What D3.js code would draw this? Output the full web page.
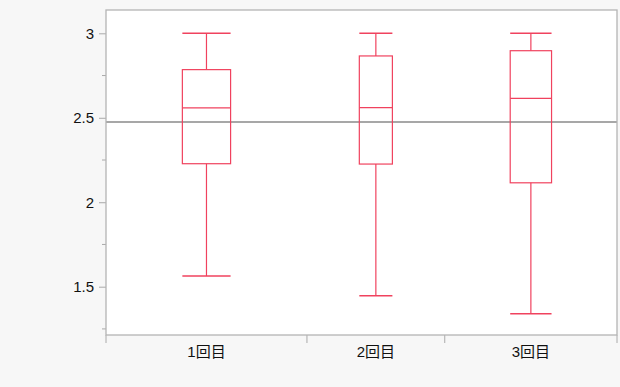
<!DOCTYPE html>
<html>
<head>
<meta charset="utf-8">
<script src="https://cdn.jsdelivr.net/npm/d3@7"></script>
<style>
  html, body { margin: 0; padding: 0; background: #f7f7f7; }
  svg { display: block; font-family: "Liberation Sans", Arial, "Noto Sans CJK JP", sans-serif; }
</style>
</head>
<body>
<svg id="chart" width="620" height="387"></svg>
<script>
// categories and box statistics
let categories = ["1回目", "2回目", "3回目"]
let groupN = [35, 24, 30]          // box width / band width follows group size
let whiskerMax = [3.0, 3.0, 3.0]
let q3 = [2.785, 2.866, 2.897]
let median = [2.558, 2.56, 2.615]
let q1 = [2.228, 2.226, 2.115]
let whiskerMin = [1.563, 1.446, 1.34]
let grandMean = 2.475
let yTicks = [1.5, 2, 2.5, 3]
let yMinorTicks = [1.25, 1.75, 2.25, 2.75]

let width = 620
let height = 387
let margin = { top: 10, right: 3, bottom: 52, left: 106 }
let boxColor = "#f0425e"

let svg = d3.select("#chart")

let plotW = width - margin.left - margin.right
let plotH = height - margin.top - margin.bottom

// 比例尺
let yScale = d3.scaleLinear()
    .domain([1.214, 3.138])
    .range([plotH, 0])

let cum = [0]
groupN.forEach(function (n, i) { cum.push(cum[i] + n) })
let xScale = d3.scaleLinear()
    .domain([0, d3.sum(groupN)])
    .range([0, plotW])

let data = categories.map(function (c, i) {
    return {
        key: c,
        x0: xScale(cum[i]),
        x1: xScale(cum[i + 1]),
        max: whiskerMax[i], q3: q3[i], med: median[i], q1: q1[i], min: whiskerMin[i]
    }
})

let g = svg.append("g")
    .attr("transform", "translate(" + margin.left + "," + margin.top + ")")

// plot background
g.append("rect")
    .attr("x", 0).attr("y", 0)
    .attr("width", plotW).attr("height", plotH)
    .attr("fill", "#fff")

// y axis
let yAxis = g.append("g")
    .call(d3.axisLeft(yScale).tickValues(yTicks).tickSize(7).tickPadding(5).tickFormat(d3.format("")))
yAxis.select(".domain").remove()
yAxis.selectAll("line").attr("stroke", "#aaa")
yAxis.selectAll("text").attr("font-size", "15px").attr("fill", "#111")

g.selectAll(".minor")
    .data(yMinorTicks)
    .enter()
    .append("line")
    .attr("class", "minor")
    .attr("x1", -4).attr("x2", 0)
    .attr("y1", function (d) { return yScale(d) })
    .attr("y2", function (d) { return yScale(d) })
    .attr("stroke", "#aaa")

// x axis: category separators
let xTickPos = cum.map(function (c) { return xScale(c) })
g.selectAll(".xtick")
    .data(xTickPos)
    .enter()
    .append("line")
    .attr("class", "xtick")
    .attr("x1", function (d) { return d }).attr("x2", function (d) { return d })
    .attr("y1", plotH).attr("y2", plotH + 8)
    .attr("stroke", "#aaa")

g.selectAll(".xlabel")
    .data(data)
    .enter()
    .append("text")
    .attr("class", "xlabel")
    .attr("x", function (d) { return (d.x0 + d.x1) / 2 })
    .attr("y", plotH + 22)
    .attr("text-anchor", "middle")
    .attr("font-size", "15px")
    .attr("fill", "#111")
    .text(function (d) { return d.key })

// mean line
g.append("line")
    .attr("x1", 0).attr("x2", plotW)
    .attr("y1", yScale(grandMean)).attr("y2", yScale(grandMean))
    .attr("stroke", "#8a8a8a")
    .attr("stroke-width", 1.3)

// boxes
let boxes = g.selectAll(".box")
    .data(data)
    .enter()
    .append("g")
    .attr("class", "box")
    .attr("fill", "none")
    .attr("stroke", boxColor)
    .attr("stroke-width", 1.2)

function bw(d) { return (d.x1 - d.x0) * 0.24 }
function cx(d) { return (d.x0 + d.x1) / 2 }

boxes.append("line")
    .attr("x1", cx).attr("x2", cx)
    .attr("y1", function (d) { return yScale(d.max) })
    .attr("y2", function (d) { return yScale(d.q3) })
boxes.append("line")
    .attr("x1", cx).attr("x2", cx)
    .attr("y1", function (d) { return yScale(d.q1) })
    .attr("y2", function (d) { return yScale(d.min) })

;["max", "min"].forEach(function (k) {
    boxes.append("line")
        .attr("x1", function (d) { return cx(d) - bw(d) / 2 })
        .attr("x2", function (d) { return cx(d) + bw(d) / 2 })
        .attr("y1", function (d) { return yScale(d[k]) })
        .attr("y2", function (d) { return yScale(d[k]) })
        .attr("stroke-width", 1.6)
})

boxes.append("rect")
    .attr("x", function (d) { return cx(d) - bw(d) / 2 })
    .attr("width", bw)
    .attr("y", function (d) { return yScale(d.q3) })
    .attr("height", function (d) { return yScale(d.q1) - yScale(d.q3) })

boxes.append("line")
    .attr("x1", function (d) { return cx(d) - bw(d) / 2 })
    .attr("x2", function (d) { return cx(d) + bw(d) / 2 })
    .attr("y1", function (d) { return yScale(d.med) })
    .attr("y2", function (d) { return yScale(d.med) })

// frame
g.append("rect")
    .attr("x", 0).attr("y", 0)
    .attr("width", plotW).attr("height", plotH)
    .attr("fill", "none")
    .attr("stroke", "#b4b4b4")
    .attr("stroke-width", 1.3)
</script>
</body>
</html>
